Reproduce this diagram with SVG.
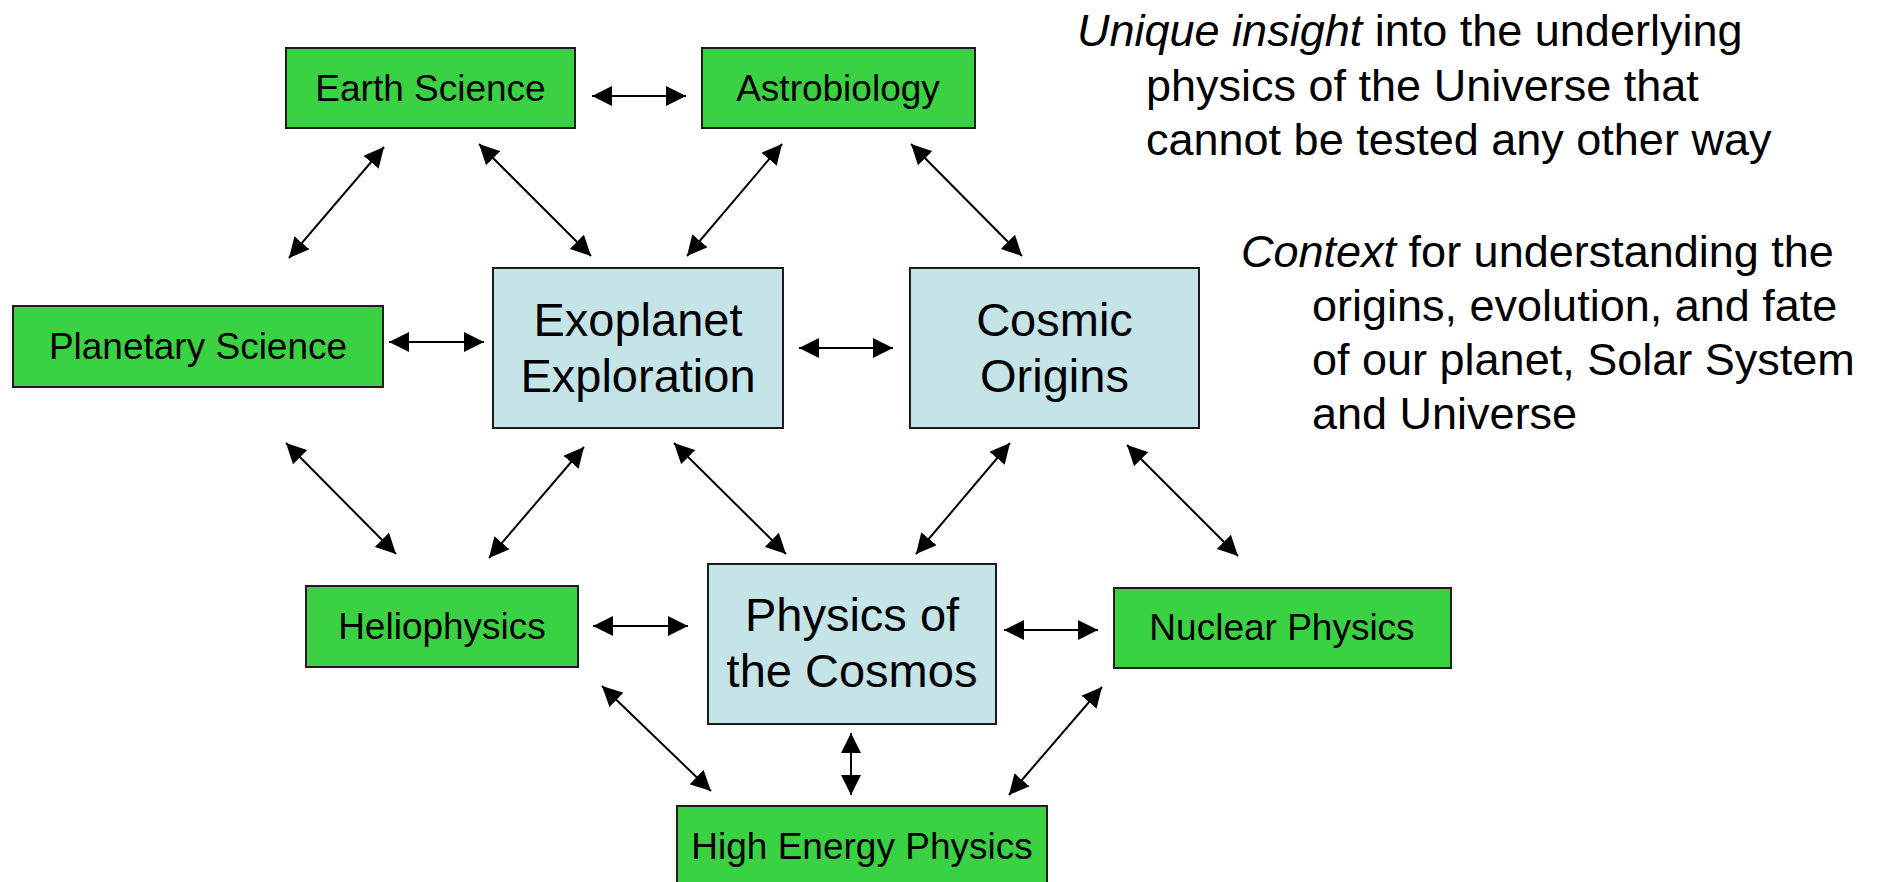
<svg xmlns="http://www.w3.org/2000/svg" width="1877" height="882" viewBox="0 0 1877 882">
<style>
.g{fill:#3AD142;stroke:#1c1c1c;stroke-width:2}
.b{fill:#C5E4E8;stroke:#1c1c1c;stroke-width:2}
.t{font-family:"Liberation Sans",Arial,sans-serif;font-size:37px;fill:#000;text-anchor:middle}
.T{font-family:"Liberation Sans",Arial,sans-serif;font-size:47px;fill:#000;text-anchor:middle}
.s{font-family:"Liberation Sans",Arial,sans-serif;font-size:45px;fill:#000}
.c line{stroke:#000;stroke-width:2;marker-start:url(#ah);marker-end:url(#ah)}
</style>
<defs>
<marker id="ah" markerUnits="userSpaceOnUse" markerWidth="20" markerHeight="20" viewBox="0 0 20 20" refX="20" refY="10" orient="auto-start-reverse">
<path d="M0,0 L20,10 L0,20 z" fill="#000"/>
</marker>
</defs>
<rect width="1877" height="882" fill="#fff"/>
<g id="connectors" class="c">
<line x1="592" y1="96" x2="686" y2="96"/>
<line x1="384" y1="147" x2="289" y2="258"/>
<line x1="479" y1="144" x2="591" y2="256"/>
<line x1="782" y1="144" x2="687" y2="256"/>
<line x1="911" y1="144" x2="1022" y2="256"/>
<line x1="389" y1="342" x2="484" y2="342"/>
<line x1="799" y1="348" x2="893" y2="348"/>
<line x1="286" y1="443" x2="396" y2="554"/>
<line x1="584" y1="447" x2="489" y2="558"/>
<line x1="674" y1="443" x2="786" y2="554"/>
<line x1="1010" y1="443" x2="916" y2="554"/>
<line x1="1127" y1="445" x2="1238" y2="556"/>
<line x1="593" y1="626" x2="688" y2="626"/>
<line x1="1004" y1="630" x2="1098" y2="630"/>
<line x1="851" y1="733" x2="851" y2="795"/>
<line x1="602" y1="686" x2="711" y2="791"/>
<line x1="1102" y1="687" x2="1009" y2="795"/>
</g>
<g id="earth-science"><rect class="g" x="286" y="48" width="289" height="80"/><text class="t" x="430.5" y="101">Earth Science</text></g>
<g id="astrobiology"><rect class="g" x="702" y="48" width="273" height="80"/><text class="t" x="838" y="101">Astrobiology</text></g>
<g id="planetary-science"><rect class="g" x="13" y="306" width="370" height="81"/><text class="t" x="198" y="359">Planetary Science</text></g>
<g id="exoplanet-exploration"><rect class="b" x="493" y="268" width="290" height="160"/><text class="T" x="638" y="336">Exoplanet</text><text class="T" x="638" y="392">Exploration</text></g>
<g id="cosmic-origins"><rect class="b" x="910" y="268" width="289" height="160"/><text class="T" x="1054.5" y="336">Cosmic</text><text class="T" x="1054.5" y="392">Origins</text></g>
<g id="heliophysics"><rect class="g" x="306" y="586" width="272" height="81"/><text class="t" x="442" y="639">Heliophysics</text></g>
<g id="physics-of-the-cosmos"><rect class="b" x="708" y="564" width="288" height="160"/><text class="T" x="852" y="631">Physics of</text><text class="T" x="852" y="687">the Cosmos</text></g>
<g id="nuclear-physics"><rect class="g" x="1114" y="588" width="337" height="80"/><text class="t" x="1282" y="640">Nuclear Physics</text></g>
<g id="high-energy-physics"><rect class="g" x="677" y="806" width="370" height="82"/><text class="t" x="862" y="859">High Energy Physics</text></g>
<g id="notes">
<text class="s" x="1077" y="46"><tspan font-style="italic">Unique insight</tspan> into the underlying</text>
<text class="s" x="1146" y="100.5">physics of the Universe that</text>
<text class="s" x="1146" y="155">cannot be tested any other way</text>
<text class="s" x="1241" y="267"><tspan font-style="italic">Context</tspan> for understanding the</text>
<text class="s" x="1312" y="321">origins, evolution, and fate</text>
<text class="s" x="1312" y="375">of our planet, Solar System</text>
<text class="s" x="1312" y="429">and Universe</text>
</g>
</svg>
